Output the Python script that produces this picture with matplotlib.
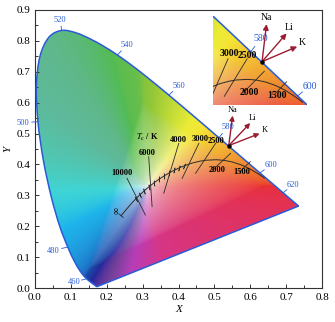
import numpy as np
import matplotlib
matplotlib.use('Agg')
import matplotlib.pyplot as plt
from matplotlib.path import Path
from matplotlib.patches import PathPatch
from matplotlib.colors import rgb_to_hsv, hsv_to_rgb

plt.rcParams['font.family'] = ['Liberation Serif', 'DejaVu Serif']
plt.rcParams['mathtext.fontset'] = 'stix'

# CIE 1931 spectral locus (nm, x, y)
wavelength = [380, 390, 400, 410, 420, 430, 440, 445, 450, 455, 460, 465, 470, 475,
              480, 485, 490, 495, 500, 505, 510, 515, 520, 525, 530, 535, 540, 545,
              550, 555, 560, 565, 570, 575, 580, 585, 590, 595, 600, 605, 610, 615,
              620, 625, 630, 640, 650, 660, 680, 700]
locus_x = [0.1741, 0.1738, 0.1733, 0.1726, 0.1714, 0.1689, 0.1644, 0.1611, 0.1566, 0.1510,
           0.1440, 0.1355, 0.1241, 0.1096, 0.0913, 0.0687, 0.0454, 0.0235, 0.0082, 0.0039,
           0.0139, 0.0389, 0.0743, 0.1142, 0.1547, 0.1929, 0.2296, 0.2658, 0.3016, 0.3373,
           0.3731, 0.4087, 0.4441, 0.4788, 0.5125, 0.5448, 0.5752, 0.6029, 0.6270, 0.6482,
           0.6658, 0.6801, 0.6915, 0.7006, 0.7079, 0.7190, 0.7260, 0.7300, 0.7320, 0.7347]
locus_y = [0.0050, 0.0049, 0.0048, 0.0048, 0.0051, 0.0069, 0.0109, 0.0138, 0.0177, 0.0227,
           0.0297, 0.0399, 0.0578, 0.0868, 0.1327, 0.2007, 0.2950, 0.4127, 0.5384, 0.6548,
           0.7502, 0.8120, 0.8338, 0.8262, 0.8059, 0.7816, 0.7543, 0.7243, 0.6923, 0.6589,
           0.6245, 0.5896, 0.5547, 0.5202, 0.4866, 0.4544, 0.4242, 0.3965, 0.3725, 0.3514,
           0.3340, 0.3197, 0.3083, 0.2993, 0.2920, 0.2809, 0.2740, 0.2700, 0.2680, 0.2653]
labelled_wl = [460, 480, 500, 520, 540, 560, 580, 600, 620]

# Planckian locus
planck_x = [0.6390, 0.6251, 0.5985, 0.5857, 0.5732, 0.5493, 0.5267, 0.5056, 0.4770, 0.4599,
            0.4369, 0.4053, 0.3805, 0.3608, 0.3451, 0.3325, 0.3221, 0.3135, 0.3064, 0.2952,
            0.2869, 0.2807, 0.2719, 0.2637, 0.2565, 0.2501, 0.2399]
planck_y = [0.3562, 0.3674, 0.3858, 0.3931, 0.3993, 0.4082, 0.4133, 0.4152, 0.4137, 0.4106,
            0.4041, 0.3907, 0.3768, 0.3636, 0.3516, 0.3411, 0.3318, 0.3237, 0.3166, 0.3048,
            0.2956, 0.2883, 0.2776, 0.2668, 0.2570, 0.2481, 0.2342]
# small marks along the curve (every 20 mired, 100..300)
mark_x = [0.2807, 0.2921, 0.3045, 0.3176, 0.3313, 0.3451, 0.3593, 0.3735, 0.3878, 0.4014, 0.4150]
mark_y = [0.2883, 0.3014, 0.3146, 0.3276, 0.3400, 0.3516, 0.3625, 0.3723, 0.3810, 0.3887, 0.3954]

# isotemperature lines
iso_temp = ['10000', '6000', '4000', '3000', '2500', '2000', '1500']
iso_start = [(0.2565, 0.3551), (0.3169, 0.4251), (0.4008, 0.4684), (0.4568, 0.4684),
             (0.5035, 0.4684), (0.5455, 0.4361), (0.6000, 0.4090)]
iso_end = [(0.3077, 0.2363), (0.3264, 0.2632), (0.3589, 0.3066), (0.4103, 0.3551),
           (0.4476, 0.3713), (0.4951, 0.3820), (0.5700, 0.3760)]

# flame emission arrows
elements = ['Na', 'Li', 'K']
arrow_origin = (0.540, 0.461)
arrow_tip = [(0.551, 0.558), (0.600, 0.534), (0.626, 0.500)]


def locus_path():
    p = np.column_stack([locus_x, locus_y])
    n = len(p)
    verts = [p[0]]
    codes = [Path.MOVETO]
    for i in range(n - 1):
        a = p[max(i - 1, 0)]
        d = p[min(i + 2, n - 1)]
        verts += [p[i] + (p[i + 1] - a) / 6, p[i + 1] - (d - p[i]) / 6, p[i + 1]]
        codes += [Path.CURVE4] * 3
    verts += [p[0], p[0]]
    codes += [Path.LINETO, Path.CLOSEPOLY]
    return Path(verts, codes)


def xy_colors(x0, x1, y0, y1, n=300):
    gx, gy = np.meshgrid(np.linspace(x0, x1, n), np.linspace(y0, y1, n))
    xyz = np.stack([gx, gy, 1 - gx - gy], -1)
    M = np.array([[3.2406, -1.5372, -0.4986],
                  [-0.9689, 1.8758, 0.0415],
                  [0.0557, -0.2040, 1.0570]])
    rgb = xyz @ M.T
    rgb = rgb - np.minimum(rgb.min(-1, keepdims=True), 0)
    rgb = rgb / np.maximum(rgb.max(-1, keepdims=True), 1e-9)
    rgb = np.where(rgb <= 0.0031308, 12.92 * rgb, 1.055 * np.clip(rgb, 0, None) ** (1 / 2.4) - 0.055)
    hsv = rgb_to_hsv(np.clip(rgb, 0, 1))
    h = hsv[..., 0] * 360
    s = hsv[..., 1] ** 0.55
    # soften the palette towards the muted look of the reference
    h2 = np.interp(h, [0, 53, 94, 148, 162, 191, 260, 290, 305, 360],
                   [0, 55, 81, 112, 150, 196, 225, 300, 330, 360])
    vt = np.interp(h2, [0, 55, 81, 112, 150, 161, 196, 225, 274, 330, 360],
                   [.92, .96, .78, .74, .72, .73, .92, .62, .60, .84, .92])
    st = np.interp(h2, [0, 55, 81, 112, 150, 161, 196, 225, 274, 330, 360],
                   [.80, .78, .72, .58, .48, .50, .87, .82, .58, .75, .80])
    hsv[..., 0] = (h2 % 360) / 360
    hsv[..., 1] = s * st
    hsv[..., 2] = 0.96 - (0.96 - vt) * s
    return hsv_to_rgb(np.clip(hsv, 0, 1))


def draw(ax, lim, fs, main=True):
    x0, x1, y0, y1 = lim
    patch = PathPatch(locus_path(), fc='none', ec='#2a5bd7', lw=1.1, zorder=3)
    ax.add_patch(patch)
    im = ax.imshow(xy_colors(x0, x1, y0, y1), extent=[x0, x1, y0, y1], origin='lower',
                   interpolation='bilinear', aspect='auto', zorder=1)
    im.set_clip_path(patch)

    ax.plot(planck_x, planck_y, color='#2b2b2b', lw=0.7, zorder=4)
    for i, (mx, my) in enumerate(zip(mark_x, mark_y)):
        ang = 25 - 45 * i / (len(mark_x) - 1)
        ax.plot(mx, my, marker=(2, 2, ang), ms=4, mew=0.5, color='#2b2b2b', zorder=4)
    ax.plot([planck_x[-1] - 0.006, planck_x[-1] + 0.006],
            [planck_y[-1] + 0.006, planck_y[-1] - 0.006], color='#2b2b2b', lw=0.6, zorder=4)
    for s, e in zip(iso_start, iso_end):
        ax.plot([s[0], e[0]], [s[1], e[1]], color='#2b2b2b', lw=0.6, zorder=4)

    txt = dict(fontsize=fs, fontweight='bold', ha='center', va='center', zorder=6)
    if main:
        ax.text(0.243, 0.372, '10000', **txt)
        ax.text(0.312, 0.438, '6000', **txt)
        ax.text(0.312, 0.487, r'$T_\mathrm{c}$ / K', **txt)
        ax.text(0.399, 0.480, '4000', **txt)
        ax.text(0.2285, 0.2525, '\u221e', rotation=90, fontsize=fs + 1, ha='center', va='center')
    ax.text(0.461, 0.482, '3000', **txt)
    ax.text(0.504, 0.476, '2500', **txt)
    ax.text(0.508, 0.381, '2000', **txt)
    ax.text(0.577, 0.374, '1500', **txt)

    label_pos = {460: (0.109, 0.020), 480: (0.0495, 0.121), 500: (-0.035, 0.535),
                 520: (0.070, 0.868), 540: (0.256, 0.787), 560: (0.400, 0.654),
                 580: (0.537, 0.521), 600: (0.657, 0.398), 620: (0.718, 0.333)}
    shown = labelled_wl if main else [580, 600]
    for w in shown:
        k = wavelength.index(w)
        px, py = locus_x[k], locus_y[k]
        lx, ly = label_pos[w]
        ax.plot([px, px + 0.4 * (lx - px)], [py, py + 0.4 * (ly - py)],
                color='#2a5bd7', lw=0.6, zorder=3, clip_on=False)
        ax.text(lx, ly, str(w), color='#2a5bd7', fontsize=fs, ha='center', va='center')

    for name, tip in zip(elements, arrow_tip):
        ax.annotate('', xy=tip, xytext=arrow_origin,
                    arrowprops=dict(arrowstyle='-|>', color='#9b1b30', lw=1.0,
                                    mutation_scale=fs + 1, shrinkA=0, shrinkB=0), zorder=5)
    lab = {'Na': (0.551, 0.576), 'Li': (0.607, 0.550), 'K': (0.639, 0.510)}
    for name in elements:
        ax.text(*lab[name], name, fontsize=fs, ha='center', va='center')
    ax.plot(*arrow_origin, 'o', ms=2.2, color='k', zorder=6)


fig = plt.figure(figsize=(3.35, 3.22), dpi=100)
ax = fig.add_axes([35 / 335, 34 / 322, 287 / 335, 278 / 322])
draw(ax, (0, 0.8, 0, 0.9), 6.0)
ax.set_xlim(0, 0.8)
ax.set_ylim(0, 0.9)
ax.set_xticks(np.arange(0, 0.81, 0.1))
ax.set_yticks(np.arange(0, 0.91, 0.1))
ax.set_xticks(np.arange(0.05, 0.8, 0.1), minor=True)
ax.set_yticks(np.arange(0.05, 0.9, 0.1), minor=True)
ax.xaxis.set_major_formatter(plt.FormatStrFormatter('%.1f'))
ax.yaxis.set_major_formatter(plt.FormatStrFormatter('%.1f'))
ax.tick_params(which='both', direction='in', labelsize=8, width=0.7, color='#333333')
ax.tick_params(which='major', length=3)
ax.tick_params(which='minor', length=2)
for sp in ax.spines.values():
    sp.set_linewidth(0.8)
    sp.set_color('#333333')
ax.set_xlabel('X', fontsize=8, style='italic', labelpad=2.5)
ax.set_ylabel('Y', fontsize=8, style='italic', labelpad=2.5)

ins = fig.add_axes([213 / 335, (322 - 105) / 322, 94 / 335, 89 / 322])
draw(ins, (0.42, 0.65, 0.349, 0.579), 7.0, main=False)
ins.set_xlim(0.42, 0.65)
ins.set_ylim(0.349, 0.579)
ins.axis('off')

fig.savefig('out.png', dpi=100)
